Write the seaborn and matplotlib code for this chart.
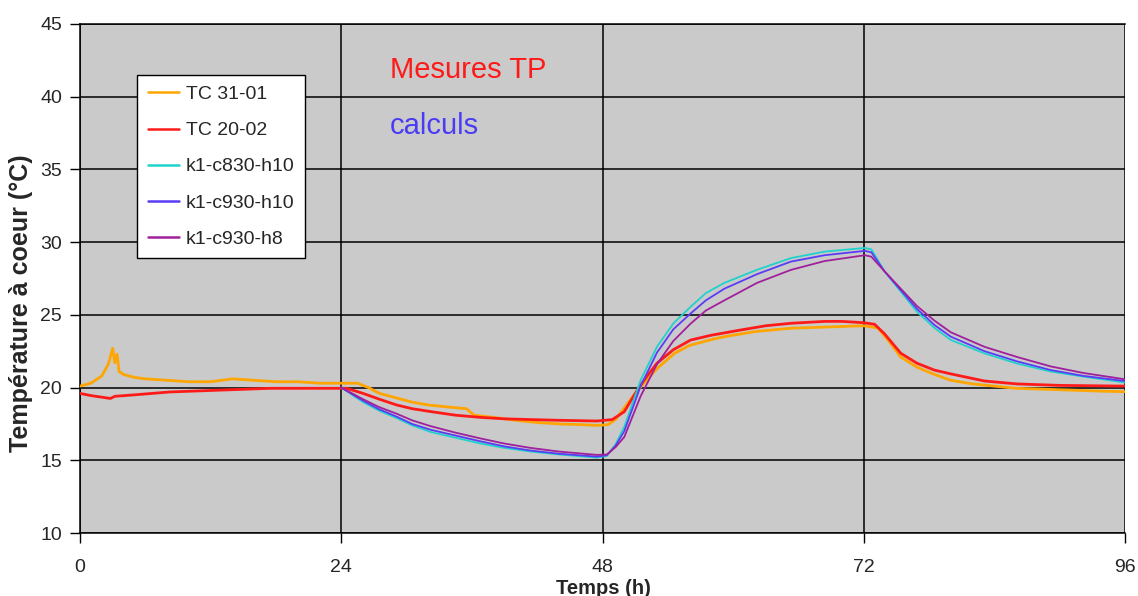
import matplotlib
matplotlib.use("Agg")
import matplotlib.pyplot as plt
import seaborn as sns

# --- measured core temperatures (TP) ---
t_tc3101 = [0, 1, 2, 2.6, 3.0, 3.2, 3.4, 3.6, 4, 5, 6, 8, 10, 12, 14, 16, 18, 20, 22, 24,
            25.5, 26.5, 27.5, 29, 30.5, 32, 34, 35.5, 36.2, 38, 40, 42, 44, 46, 47.5,
            48.5, 49.2, 50, 51, 51.8, 53, 54.6, 56, 58, 59.2, 62, 65.3, 68, 70, 72,
            73.3, 74.3, 75.4, 76.9, 78.5, 80, 82, 84, 86, 88, 90, 92, 94, 96]
v_tc3101 = [20.1, 20.3, 20.8, 21.6, 22.7, 21.7, 22.3, 21.1, 20.9, 20.7, 20.6, 20.5, 20.4, 20.4,
            20.6, 20.5, 20.4, 20.4, 20.3, 20.3,
            20.3, 20.0, 19.6, 19.3, 19.0, 18.8, 18.65, 18.55, 18.1, 17.95, 17.75, 17.6, 17.5, 17.45, 17.4,
            17.45, 17.8, 18.6, 19.6, 20.3, 21.3, 22.35, 22.9, 23.3, 23.5, 23.85, 24.08, 24.15, 24.2, 24.25,
            24.1, 23.2, 22.1, 21.4, 20.9, 20.5, 20.25, 20.1, 19.95, 19.9, 19.85, 19.8, 19.75, 19.72]

t_tc2002 = [0, 1, 2.8, 3.2, 5, 8.3, 12, 17.5, 20, 24, 24.5, 26, 27.5, 29.1, 30.5, 32.2, 34.5,
            36.8, 39, 41.4, 44, 47.5, 48.9, 50, 51.2, 52, 53, 54.5, 56.1, 58, 60.7, 63,
            65.3, 68.4, 70, 72, 73, 73.9, 75.4, 76.9, 78.5, 80, 83.1, 86.1, 90, 96]
v_tc2002 = [19.6, 19.45, 19.25, 19.4, 19.5, 19.7, 19.8, 19.95, 19.95, 19.95, 19.95, 19.6, 19.2,
            18.8, 18.55, 18.35, 18.1, 17.95, 17.85, 17.8, 17.75, 17.7, 17.8, 18.34, 19.83, 20.7,
            21.67, 22.6, 23.27, 23.6, 23.96, 24.25, 24.42, 24.55, 24.55, 24.46, 24.35, 23.7, 22.36,
            21.67, 21.2, 20.94, 20.45, 20.25, 20.15, 20.1]

# --- computed core temperatures ---
t_calc = [24, 25, 26, 27.5, 29.1, 30.5, 32.2, 34.5, 36.8, 39, 41.4, 44, 47.5, 48.4, 49.2, 50,
          51.5, 53, 54.5, 56.1, 57.5, 59.2, 62.2, 65.3, 68.4, 72.1, 72.7, 73.9, 75.4, 76.9,
          78.5, 80, 83.1, 86.1, 89.2, 92.2, 96]
v_c830_h10 = [20.0, 19.5, 19.0, 18.4, 17.9, 17.4, 16.95, 16.55, 16.15, 15.85, 15.6, 15.4, 15.18,
              15.3, 16.1, 17.3, 20.5, 22.8, 24.4, 25.56, 26.5, 27.2, 28.1, 28.9, 29.35, 29.6,
              29.5, 28.0, 26.6, 25.2, 24.1, 23.27, 22.35, 21.65, 21.1, 20.75, 20.35]
v_c930_h10 = [20.0, 19.55, 19.1, 18.5, 18.0, 17.5, 17.1, 16.7, 16.3, 15.95, 15.67, 15.45, 15.25,
              15.35, 16.0, 17.0, 20.1, 22.4, 24.0, 25.1, 26.0, 26.8, 27.8, 28.66, 29.1, 29.4,
              29.3, 28.0, 26.7, 25.4, 24.3, 23.5, 22.5, 21.8, 21.2, 20.8, 20.45]
v_c930_h8 = [20.0, 19.6, 19.2, 18.65, 18.2, 17.75, 17.35, 16.9, 16.5, 16.15, 15.85, 15.6, 15.37,
             15.4, 15.9, 16.6, 19.4, 21.6, 23.2, 24.4, 25.3, 26.0, 27.2, 28.09, 28.7, 29.1,
             29.0, 28.0, 26.8, 25.6, 24.6, 23.8, 22.8, 22.1, 21.45, 21.0, 20.57]

x_ticks = [0, 24, 48, 72, 96]
y_ticks = [10, 15, 20, 25, 30, 35, 40, 45]

sns.set_style("white")
plt.rcParams["font.family"] = ["Liberation Sans", "DejaVu Sans"]

fig = plt.figure(figsize=(11.38, 5.96), dpi=100)
ax = fig.add_axes([80 / 1138, 1 - 533 / 596, 1045 / 1138, 509 / 596])
ax.set_facecolor("#cacaca")

series = [
    (t_tc3101, v_tc3101, "TC 31-01", "#ffa500", 2.0),
    (t_tc2002, v_tc2002, "TC 20-02", "#ff1a1a", 2.0),
    (t_calc, v_c830_h10, "k1-c830-h10", "#20d2cc", 1.3),
    (t_calc, v_c930_h10, "k1-c930-h10", "#5a3cf5", 1.3),
    (t_calc, v_c930_h8, "k1-c930-h8", "#a0209c", 1.3),
]
for tx, vy, name, col, lw in series:
    sns.lineplot(x=tx, y=vy, ax=ax, color=col, lw=lw, label=name, zorder=3)

ax.set_xlim(0, 96)
ax.set_ylim(10, 45)
ax.set_xticks(x_ticks)
ax.set_yticks(y_ticks)
ax.set_xticklabels([str(v) for v in x_ticks])
ax.set_yticklabels([str(v) for v in y_ticks])
ax.grid(True, color="black", lw=1.1)
ax.set_axisbelow(True)
ax.tick_params(axis="both", direction="out", length=7, width=1.0, color="black",
               labelsize=14, left=True, bottom=True)
ax.tick_params(axis="x", pad=12)
ax.tick_params(axis="y", pad=6)
for side in ("left", "bottom", "top"):
    ax.spines[side].set_visible(True)
    ax.spines[side].set_color("black")
    ax.spines[side].set_linewidth(1.1)
ax.spines["right"].set_visible(False)

ax.set_xlabel("")
ax.set_ylabel("")
fig.text(603 / 1138, 1 - 588 / 596, "Temps (h)", ha="center", va="center",
         fontsize=14.5, fontweight="bold")
fig.text(21 / 1138, 1 - 303 / 596, "Température à coeur (°C)", ha="center", va="center",
         rotation=90, fontsize=18, fontweight="bold")

ax.annotate("Mesures TP", xy=(390 / 1138, 1 - 70 / 596), xycoords="figure fraction",
            ha="left", va="center", fontsize=21, color="#ff1a1a")
ax.annotate("calculs", xy=(390 / 1138, 1 - 126 / 596), xycoords="figure fraction",
            ha="left", va="center", fontsize=21, color="#4a3cf5")

leg = ax.legend(loc="upper left", bbox_to_anchor=((137 - 80) / 1045, (533 - 75) / 509),
                borderaxespad=0, frameon=True, fancybox=False, fontsize=14,
                handlelength=1.6, handletextpad=0.35, labelspacing=0.95,
                borderpad=0.55)
leg.get_frame().set_edgecolor("black")
leg.get_frame().set_facecolor("white")
leg.get_frame().set_linewidth(1.0)
leg.get_frame().set_alpha(1)
for line in leg.get_lines():
    line.set_linewidth(1.8)

fig.savefig("out.png", dpi=100, facecolor="white")
